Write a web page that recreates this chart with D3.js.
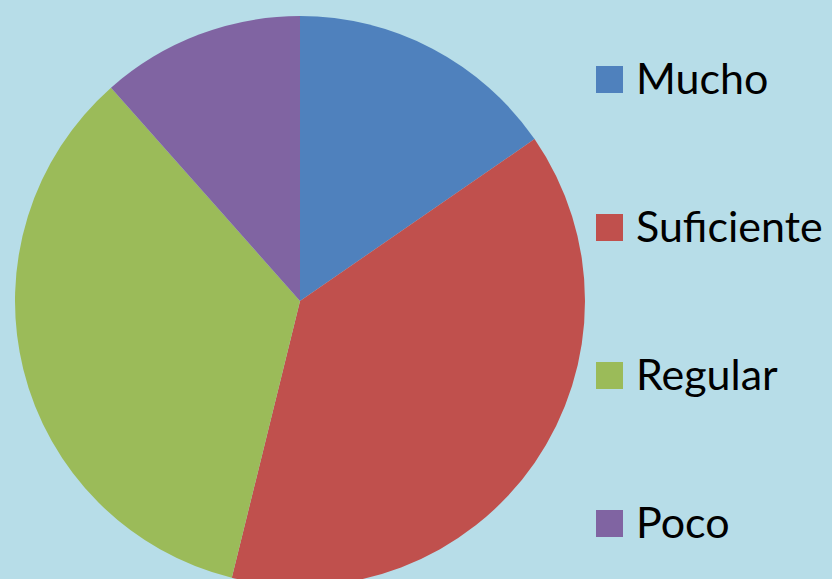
<!DOCTYPE html>
<html>
<head>
<meta charset="utf-8">
<script src="https://cdn.jsdelivr.net/npm/d3@7"></script>
<style>
  html, body { margin: 0; padding: 0; background: #b7dde8; overflow: hidden; }
  svg { display: block; }
</style>
</head>
<body>
<svg id="pie"></svg>
<script>
// data
var categories = ["Mucho", "Suficiente", "Regular", "Poco"];
var values = [4, 10, 9, 3];
var colors = ["#4f81bd", "#c0504d", "#9bbb59", "#8064a2"];

var width = 832;
var height = 579;

var svg = d3.select("#pie")
    .attr("width", width)
    .attr("height", height);

svg.append("rect")
    .attr("width", width)
    .attr("height", height)
    .attr("fill", "#b7dde8");

// pie
var cx = 300, cy = 301, radius = 285;

var pie = d3.pie()
    .sort(null)
    .value(function(d) { return d; });

var arc = d3.arc()
    .innerRadius(0)
    .outerRadius(radius);

var color = d3.scaleOrdinal()
    .domain(categories)
    .range(colors);

var g = svg.append("g")
    .attr("transform", "translate(" + cx + "," + cy + ")");

g.selectAll("path")
    .data(pie(values))
    .enter().append("path")
    .attr("d", arc)
    .attr("fill", function(d, i) { return color(categories[i]); });

// legend
var legendY = d3.scalePoint()
    .domain(categories)
    .range([79, 523]);

var legend = svg.selectAll(".legend")
    .data(categories)
    .enter().append("g")
    .attr("class", "legend")
    .attr("transform", function(d) { return "translate(596," + legendY(d) + ")"; });

legend.append("rect")
    .attr("x", 0)
    .attr("y", -13)
    .attr("width", 27)
    .attr("height", 27)
    .attr("fill", function(d) { return color(d); });

legend.append("text")
    .attr("x", 40)
    .attr("y", 15)
    .attr("font-family", "Lato, 'Open Sans', sans-serif")
    .attr("font-size", 43)
    .attr("fill", "#000")
    .text(function(d) { return d; });
</script>
</body>
</html>
